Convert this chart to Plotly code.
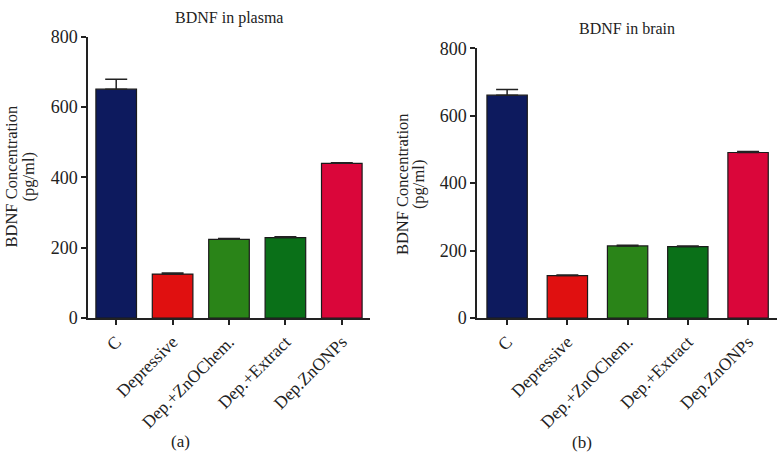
import plotly.graph_objects as go

categories = ["C", "Depressive", "Dep.+ZnOChem.", "Dep.+Extract", "Dep.ZnONPs"]
plasma_values = [651, 125, 224, 229, 440]
plasma_errors = [28, 3, 2, 2, 2]
brain_values = [661, 126, 214, 212, 491]
brain_errors = [17, 2, 2, 2, 3]
bar_colors = ["#0d1a5e", "#e01010", "#2a8418", "#0a7018", "#da063a"]
y_ticks = [0, 200, 400, 600, 800]

FONT = "Liberation Serif"
W, H = 778, 462

def px(x):
    return x / W

def py(y):
    return 1 - y / H

fig = go.Figure()

for vals, errs, xa, ya, bw in [
    (plasma_values, plasma_errors, "x", "y", 0.72),
    (brain_values, brain_errors, "x2", "y2", 0.67),
]:
    fig.add_trace(go.Bar(
        x=categories, y=vals, xaxis=xa, yaxis=ya,
        marker=dict(color=bar_colors, line=dict(color="#1a1a1a", width=1.2)),
        width=bw,
        error_y=dict(type="data", array=errs, arrayminus=[0] * len(errs),
                     symmetric=False, color="#222222", thickness=1.5, width=11),
        showlegend=False,
    ))

axis_common = dict(
    showgrid=False, zeroline=False, showline=True, linecolor="#222222", linewidth=1.5,
    ticks="outside", ticklen=5, tickwidth=1.5, tickcolor="#222222",
)
xfont = dict(family=FONT, size=17.5, color="#222222")
yfont = dict(family=FONT, size=18, color="#222222")

fig.update_layout(
    width=W, height=H,
    margin=dict(l=0, r=0, t=0, b=0),
    paper_bgcolor="white", plot_bgcolor="white",
    font=dict(family=FONT, color="#222222"),
    xaxis=dict(domain=[px(88), px(370)], range=[-0.5, 4.5], tickangle=-45,
               anchor="y", tickfont=xfont, **axis_common),
    yaxis=dict(domain=[py(322), py(28)], range=[0, 800], tickvals=y_ticks,
               anchor="x", tickfont=yfont, **axis_common),
    xaxis2=dict(domain=[px(477), px(777)], range=[-0.5, 4.48], tickangle=-45,
                anchor="y2", tickfont=xfont, **axis_common),
    yaxis2=dict(domain=[py(322), py(40)], range=[0, 800], tickvals=y_ticks,
                anchor="x2", tickfont=yfont, **axis_common),
)

annotations = [
    dict(text="BDNF in plasma", x=px(229), y=py(8), size=16, angle=0),
    dict(text="BDNF in brain", x=px(627), y=py(19), size=16, angle=0),
    dict(text="(a)", x=px(180), y=py(451), size=17, angle=0),
    dict(text="(b)", x=px(582), y=py(452), size=17, angle=0),
    dict(text="BDNF Concentration", x=px(11), y=py(174), size=16.5, angle=-90),
    dict(text="(pg/ml)", x=px(28), y=py(174), size=16.5, angle=-90),
    dict(text="BDNF Concentration", x=px(402), y=py(182), size=16.5, angle=-90),
    dict(text="(pg/ml)", x=px(418), y=py(182), size=16.5, angle=-90),
]
for a in annotations:
    fig.add_annotation(text=a["text"], x=a["x"], y=a["y"], xref="paper", yref="paper",
                       showarrow=False, xanchor="center", yanchor="middle",
                       textangle=a["angle"],
                       font=dict(family=FONT, size=a["size"], color="#222222"))

fig.write_html("out.html", config={"displayModeBar": False},
               post_script="document.body.style.margin='0px';")
